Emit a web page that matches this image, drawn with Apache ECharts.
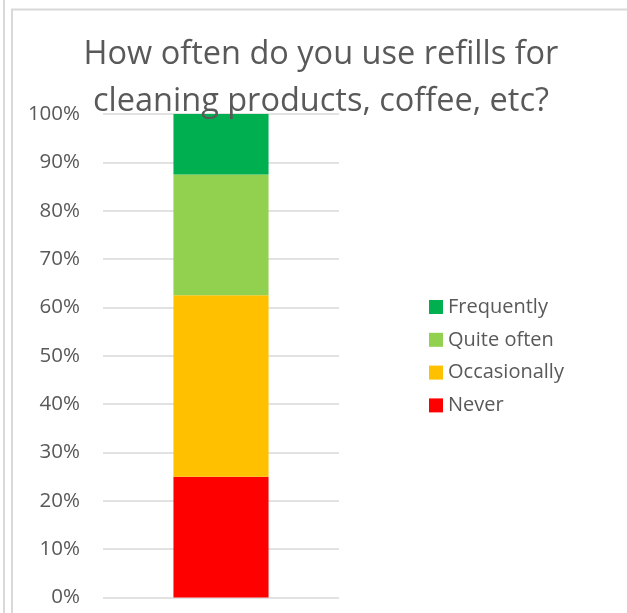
<!DOCTYPE html>
<html>
<head>
<meta charset="utf-8">
<script src="https://cdn.jsdelivr.net/npm/echarts@6/dist/echarts.min.js"></script>
<style>
html,body{margin:0;padding:0;background:#fff;}
#chart{width:627px;height:613px;}
</style>
</head>
<body>
<div id="chart"></div>
<script>
const categories = ['Refills'];
const seriesNames = ['Never', 'Occasionally', 'Quite often', 'Frequently'];
const never = [25];
const occasionally = [37.5];
const quiteOften = [25];
const frequently = [12.5];
const legendOrder = ['Frequently', 'Quite often', 'Occasionally', 'Never'];
const colors = ['#FF0000', '#FFC000', '#92D050', '#00B050'];
const yTicks = [0, 100, 10];

const values = [never, occasionally, quiteOften, frequently];
const font = 'Open Sans';
const chart = echarts.init(document.getElementById('chart'), null, {renderer: 'canvas'});
chart.setOption({
  animation: false,
  backgroundColor: '#ffffff',
  title: {
    text: 'How often do you use refills for\ncleaning products, coffee, etc?',
    left: 321,
    top: 31,
    padding: 0,
    textAlign: 'center',
    textStyle: {fontFamily: font, fontSize: 32.5, fontWeight: 'normal', color: '#595959', lineHeight: 47}
  },
  legend: {
    orient: 'vertical',
    left: 429,
    top: 297,
    padding: 0,
    itemWidth: 14,
    itemHeight: 14,
    itemGap: 12.8,
    icon: 'rect',
    data: legendOrder,
    textStyle: {fontFamily: font, fontSize: 20, color: '#595959', lineHeight: 20}
  },
  grid: {left: 103, right: 288, top: 114, bottom: 15.5, containLabel: false},
  xAxis: {
    type: 'category',
    data: categories,
    axisLine: {show: false},
    axisTick: {show: false},
    axisLabel: {show: false}
  },
  yAxis: {
    type: 'value',
    min: yTicks[0],
    max: yTicks[1],
    interval: yTicks[2],
    axisLine: {show: false},
    axisTick: {show: false},
    axisLabel: {formatter: '{value}%', fontFamily: font, fontSize: 20.5, color: '#595959', margin: 23},
    splitLine: {lineStyle: {color: '#d9d9d9', width: 1.5}}
  },
  series: seriesNames.map((n, i) => ({
    name: n,
    type: 'bar',
    stack: 'total',
    barWidth: '40.3%',
    data: values[i],
    itemStyle: {color: colors[i]}
  })),
  graphic: [
    {type: 'line', shape: {x1: 4, y1: 0, x2: 4, y2: 613}, style: {stroke: '#d9d9d9', lineWidth: 2}},
    {type: 'line', shape: {x1: 12, y1: 9.5, x2: 12, y2: 613}, style: {stroke: '#d9d9d9', lineWidth: 2}},
    {type: 'line', shape: {x1: 11, y1: 9.5, x2: 627, y2: 9.5}, style: {stroke: '#d9d9d9', lineWidth: 2}}
  ]
});
</script>
</body>
</html>
